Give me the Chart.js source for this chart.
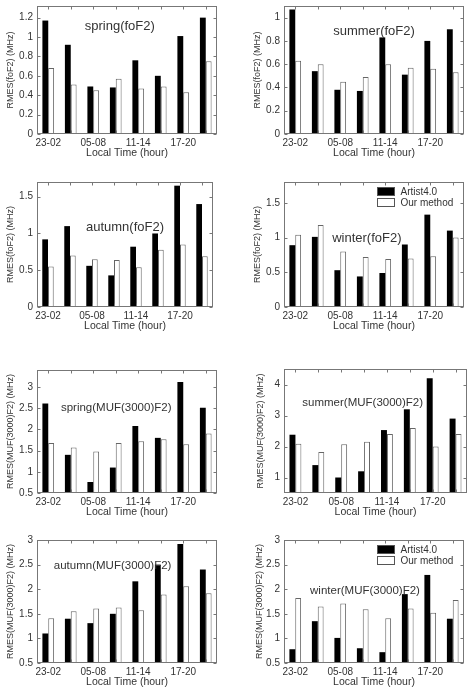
<!DOCTYPE html>
<html>
<head>
<meta charset="utf-8">
<script src="https://cdn.jsdelivr.net/npm/chart.js@4.4.0/dist/chart.umd.min.js"></script>
<style>
  body { margin: 0; background: #fff; width: 474px; height: 696px; position: relative; overflow: hidden; }
  .painel { position: absolute; }
</style>
</head>
<body>
<div class="painel" id="p1"><canvas id="c1"></canvas></div>
<div class="painel" id="p2"><canvas id="c2"></canvas></div>
<div class="painel" id="p3"><canvas id="c3"></canvas></div>
<div class="painel" id="p4"><canvas id="c4"></canvas></div>
<div class="painel" id="p5"><canvas id="c5"></canvas></div>
<div class="painel" id="p6"><canvas id="c6"></canvas></div>
<div class="painel" id="p7"><canvas id="c7"></canvas></div>
<div class="painel" id="p8"><canvas id="c8"></canvas></div>
<script>
// faixas de hora local (8 grupos de 3 horas)
const horas = ["23-02", "02-05", "05-08", "08-11", "11-14", "14-17", "17-20", "20-23"];
const rotulosX = ["23-02", "", "05-08", "", "11-14", "", "17-20", ""];
const nomesSeries = ["Artist4.0", "Our method"];

// foF2
const primaveraFoArtist = [1.17, 0.92, 0.49, 0.48, 0.76, 0.60, 1.01, 1.20];
const primaveraFoNosso  = [0.68, 0.51, 0.45, 0.57, 0.47, 0.49, 0.43, 0.75];
const veraoFoArtist     = [1.07, 0.54, 0.38, 0.37, 0.83, 0.51, 0.80, 0.90];
const veraoFoNosso      = [0.63, 0.60, 0.45, 0.49, 0.60, 0.57, 0.56, 0.53];
const outonoFoArtist    = [0.92, 1.10, 0.56, 0.43, 0.82, 1.00, 1.65, 1.40];
const outonoFoNosso     = [0.55, 0.70, 0.65, 0.64, 0.54, 0.78, 0.85, 0.69];
const invernoFoArtist   = [0.89, 1.01, 0.53, 0.44, 0.49, 0.90, 1.33, 1.10];
const invernoFoNosso    = [1.04, 1.18, 0.80, 0.72, 0.69, 0.70, 0.73, 1.00];

// MUF(3000)F2
const primaveraMufArtist = [2.61, 1.40, 0.76, 1.10, 2.08, 1.80, 3.12, 2.51];
const primaveraMufNosso  = [1.68, 1.57, 1.48, 1.68, 1.72, 1.77, 1.65, 1.90];
const veraoMufArtist     = [2.38, 1.40, 1.00, 1.20, 2.53, 3.20, 4.20, 2.90];
const veraoMufNosso      = [2.09, 1.82, 2.07, 2.15, 2.40, 2.60, 2.00, 2.40];
const outonoMufArtist    = [1.10, 1.40, 1.31, 1.50, 2.16, 2.50, 2.92, 2.40];
const outonoMufNosso     = [1.41, 1.55, 1.61, 1.63, 1.57, 1.89, 2.06, 1.92];
const invernoMufArtist   = [0.78, 1.35, 1.01, 0.80, 0.72, 1.90, 2.29, 1.40];
const invernoMufNosso    = [1.82, 1.65, 1.71, 1.59, 1.41, 1.61, 1.52, 1.78];

// marcas do eixo y
const ticksPrimFo = [0, 0.2, 0.4, 0.6, 0.8, 1, 1.2];
const ticksVerFo  = [0, 0.2, 0.4, 0.6, 0.8, 1];
const ticksOutFo  = [0, 0.5, 1, 1.5];
const ticksInvFo  = [0, 0.5, 1, 1.5];
const ticksPrimMuf = [0.5, 1, 1.5, 2, 2.5, 3];
const ticksVerMuf  = [1, 2, 3, 4];
const ticksOutMuf  = [0.5, 1, 1.5, 2, 2.5, 3];
const ticksInvMuf  = [0.5, 1, 1.5, 2, 2.5, 3];

const FONTE = '"Liberation Sans", Arial, sans-serif';

// moldura estilo matlab + titulo dentro do grafico + legenda
const moldura = {
  id: "moldura",
  afterDraw(chart, args, opts) {
    const ctx = chart.ctx;
    const a = chart.chartArea;
    const sx = chart.scales.x, sy = chart.scales.y;
    const l = Math.round(a.left) + 0.5, t = Math.round(a.top) + 0.5;
    const r = Math.round(a.right) - 0.5, b = Math.round(a.bottom) - 0.5;
    ctx.save();
    ctx.strokeStyle = "#777";
    ctx.lineWidth = 1;
    ctx.strokeRect(l, t, r - l, b - t);
    ctx.beginPath();
    sx.ticks.forEach((tk, i) => {
      const px = Math.round(sx.getPixelForTick(i)) + 0.5;
      ctx.moveTo(px, t); ctx.lineTo(px, t + 3);
      ctx.moveTo(px, b); ctx.lineTo(px, b - 3);
    });
    sy.ticks.forEach(tk => {
      const py = Math.round(sy.getPixelForValue(tk.value)) + 0.5;
      ctx.moveTo(l, py); ctx.lineTo(l + 3, py);
      ctx.moveTo(r, py); ctx.lineTo(r - 3, py);
    });
    ctx.stroke();

    ctx.fillStyle = "#333";
    ctx.font = opts.fonte + "px " + FONTE;
    ctx.textAlign = "center";
    ctx.textBaseline = "middle";
    ctx.fillText(opts.titulo, a.left + opts.fx * (a.right - a.left), a.top + opts.fy * (a.bottom - a.top));

    if (opts.legenda) {
      ctx.font = "10px " + FONTE;
      ctx.textAlign = "left";
      chart.data.datasets.forEach((ds, i) => {
        const lx = Math.round(a.left + 93) + 0.5;
        const ly = Math.round(a.top + 5 + i * 11) + 0.5;
        ctx.fillStyle = ds.backgroundColor;
        ctx.fillRect(lx, ly, 17, 8);
        ctx.strokeStyle = "#555";
        ctx.strokeRect(lx, ly, 17, 8);
        ctx.fillStyle = "#333";
        ctx.fillText(ds.label, lx + 23, ly + 4.5);
      });
    }
    ctx.restore();
  }
};
Chart.register(moldura);

function gerarGrafico(id, cfg) {
  const div = document.getElementById("p" + id);
  div.style.left = cfg.x0 + "px";
  div.style.top = cfg.y0 + "px";
  div.style.width = cfg.w + "px";
  div.style.height = cfg.h + "px";
  const [L, T, R, B] = cfg.box;
  const ctx = document.getElementById("c" + id).getContext("2d");

  new Chart(ctx, {
    type: "bar",
    data: {
      labels: horas,
      datasets: [
        { label: nomesSeries[0], data: cfg.artist, backgroundColor: "#000", borderColor: "#000", borderWidth: 0 },
        { label: nomesSeries[1], data: cfg.nosso, backgroundColor: "#fff", borderColor: "#666", borderWidth: 1, borderSkipped: false }
      ]
    },
    options: {
      responsive: true,
      maintainAspectRatio: false,
      animation: false,
      datasets: { bar: { categoryPercentage: 0.52, barPercentage: 1 } },
      layout: { padding: { left: 0, top: T - cfg.y0, right: cfg.x0 + cfg.w - R, bottom: 0 } },
      plugins: {
        legend: { display: false },
        tooltip: { enabled: false },
        moldura: { titulo: cfg.titulo, fonte: cfg.fonte, fx: cfg.fx, fy: cfg.fy, legenda: cfg.legenda }
      },
      scales: {
        x: {
          grid: { display: false, drawTicks: false },
          border: { display: false },
          ticks: {
            autoSkip: false, maxRotation: 0, padding: 3, color: "#333",
            font: { size: 10, family: FONTE },
            callback: (v, i) => rotulosX[i]
          },
          title: {
            display: true, text: "Local Time (hour)", color: "#333",
            font: { size: 10.5, family: FONTE }, padding: { top: 0, bottom: cfg.y0 + cfg.h - B - 25 }
          },
          afterFit: s => { s.height = cfg.y0 + cfg.h - B; s.paddingLeft = 0; s.paddingRight = 0; }
        },
        y: {
          min: cfg.min, max: cfg.max,
          grid: { display: false, drawTicks: false },
          border: { display: false },
          afterBuildTicks: s => { s.ticks = cfg.ticks.map(v => ({ value: v })); },
          ticks: {
            padding: 4, color: "#333",
            font: { size: 10, family: FONTE },
            callback: v => String(+v.toFixed(2))
          },
          title: {
            display: true, text: cfg.yTitulo, color: "#333",
            font: { size: 9, family: FONTE }, padding: { top: cfg.yTitX - 5.4, bottom: 0 }
          },
          afterFit: s => { s.width = L - cfg.x0; s.paddingTop = 0; s.paddingBottom = 0; }
        }
      }
    }
  });
}

gerarGrafico(1, { x0: 0, y0: 0, w: 237, h: 170, box: [37, 6, 217, 134],
  artist: primaveraFoArtist, nosso: primaveraFoNosso, ticks: ticksPrimFo, min: 0, max: 1.32,
  yTitulo: "RMES(foF2) (MHz)", titulo: "spring(foF2)", fonte: 13, fx: 0.46, fy: 0.16, legenda: false, yTitX: 11 });
gerarGrafico(2, { x0: 237, y0: 0, w: 237, h: 170, box: [284, 6, 464, 134],
  artist: veraoFoArtist, nosso: veraoFoNosso, ticks: ticksVerFo, min: 0, max: 1.1,
  yTitulo: "RMES(foF2) (MHz)", titulo: "summer(foF2)", fonte: 13, fx: 0.5, fy: 0.2, legenda: false, yTitX: 21 });
gerarGrafico(3, { x0: 0, y0: 170, w: 237, h: 180, box: [37, 182, 213, 307],
  artist: outonoFoArtist, nosso: outonoFoNosso, ticks: ticksOutFo, min: 0, max: 1.7,
  yTitulo: "RMES(foF2) (MHz)", titulo: "autumn(foF2)", fonte: 13, fx: 0.5, fy: 0.36, legenda: false, yTitX: 11 });
gerarGrafico(4, { x0: 237, y0: 170, w: 237, h: 180, box: [284, 182, 464, 307],
  artist: invernoFoArtist, nosso: invernoFoNosso, ticks: ticksInvFo, min: 0, max: 1.8,
  yTitulo: "RMES(foF2) (MHz)", titulo: "winter(foF2)", fonte: 13, fx: 0.46, fy: 0.45, legenda: true, yTitX: 21 });
gerarGrafico(5, { x0: 0, y0: 350, w: 237, h: 175, box: [37, 370, 217, 493],
  artist: primaveraMufArtist, nosso: primaveraMufNosso, ticks: ticksPrimMuf, min: 0.5, max: 3.4,
  yTitulo: "RMES(MUF(3000)F2) (MHz)", titulo: "spring(MUF(3000)F2)", fonte: 11.5, fx: 0.44, fy: 0.31, legenda: false, yTitX: 11 });
gerarGrafico(6, { x0: 237, y0: 350, w: 237, h: 175, box: [284, 369, 467, 493],
  artist: veraoMufArtist, nosso: veraoMufNosso, ticks: ticksVerMuf, min: 0.5, max: 4.5,
  yTitulo: "RMES(MUF(3000)F2) (MHz)", titulo: "summer(MUF(3000)F2)", fonte: 11.5, fx: 0.43, fy: 0.27, legenda: false, yTitX: 24 });
gerarGrafico(7, { x0: 0, y0: 525, w: 237, h: 171, box: [37, 540, 217, 663],
  artist: outonoMufArtist, nosso: outonoMufNosso, ticks: ticksOutMuf, min: 0.5, max: 3,
  yTitulo: "RMES(MUF(3000)F2) (MHz)", titulo: "autumn(MUF(3000)F2)", fonte: 11.5, fx: 0.42, fy: 0.21, legenda: false, yTitX: 11 });
gerarGrafico(8, { x0: 237, y0: 525, w: 237, h: 171, box: [284, 540, 464, 663],
  artist: invernoMufArtist, nosso: invernoMufNosso, ticks: ticksInvMuf, min: 0.5, max: 3,
  yTitulo: "RMES(MUF(3000)F2) (MHz)", titulo: "winter(MUF(3000)F2)", fonte: 11.5, fx: 0.45, fy: 0.41, legenda: true, yTitX: 23 });
</script>
</body>
</html>
